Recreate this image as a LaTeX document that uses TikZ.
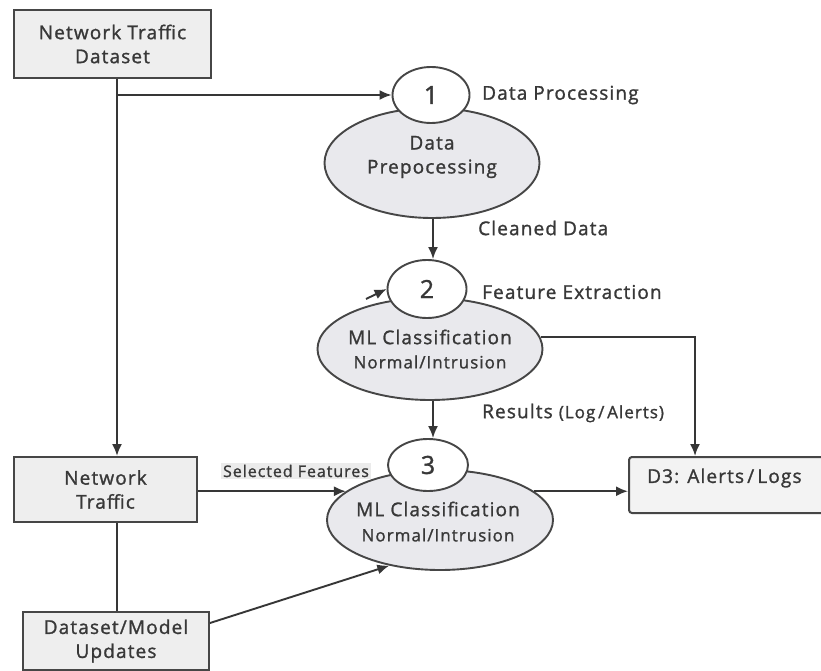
\documentclass[tikz,border=0pt]{standalone}
\usepackage{fontspec}
\setmainfont{Open Sans}[LetterSpace=6, FakeBold=1.3]
\usetikzlibrary{arrows.meta,shapes.geometric}
\definecolor{ln}{HTML}{363636}
\definecolor{bd}{HTML}{464646}
\definecolor{txt}{HTML}{383838}
\definecolor{boxfill}{HTML}{EEEEEE}
\definecolor{ellfill}{HTML}{E9E9ED}
\definecolor{tagfill}{HTML}{EBEBEB}
\newcommand{\mainsz}{\fontsize{19}{24}\selectfont}
\newcommand{\smallsz}{\fontsize{17}{20}\selectfont}
\newcommand{\tagsz}{\fontsize{16}{20}\selectfont}
\newcommand{\numsz}{\fontsize{25}{28}\selectfont}
\begin{document}
\begin{tikzpicture}[x=1pt,y=-1pt,
  box/.style={draw=bd, fill=boxfill, line width=2pt, inner sep=0pt, align=center, font=\mainsz, text=txt},
  proc/.style={ellipse, draw=bd, fill=ellfill, line width=1.9pt, inner sep=0pt},
  num/.style={ellipse, draw=bd, fill=white, line width=1.9pt, inner sep=0pt, font=\numsz, text=txt},
  etext/.style={inner sep=0pt, align=center, font=\mainsz, text=txt},
  esmall/.style={inner sep=0pt, align=center, font=\smallsz, text=txt},
  lbl/.style={inner sep=0pt, anchor=west, font=\mainsz, text=txt},
  arr/.style={draw=ln, line width=1.9pt, -{Latex[length=12pt,width=10pt]}},
  plain/.style={draw=ln, line width=1.9pt}]
\useasboundingbox[fill=white] (0,0) rectangle (821,671);

% boxes
\node[box, minimum width=197pt, minimum height=68pt] (ds) at (112.5,44) {Network Traffic\\Dataset};
\node[box, minimum width=183pt, minimum height=65pt] (nt) at (105.5,489.5) {Network\\Traffic};
\node[box, minimum width=186pt, minimum height=58pt] (dm) at (116,641) {Dataset/Model\\Updates};
\node[box, rounded corners=3pt, fill=boxfill!70!white, minimum width=196pt, minimum height=56pt] (d3) at (727,485) {};
\node[lbl] (d3t) at (647,478) {D3: Alerts\,/\,Logs};

% process 1
\node[proc, minimum width=215pt, minimum height=110pt] (e1) at (432,163) {};
\node[num, minimum width=77pt, minimum height=56pt] (c1) at (431,95) {1};
\node[etext] (e1t) at (432,157) {Data\\Prepocessing};

% process 2
\node[proc, minimum width=225pt, minimum height=102pt] (e2) at (430,349) {};
\node[num, minimum width=79pt, minimum height=58pt] (c2) at (427,289) {2};
\node[etext] (e2a) at (430,337) {ML Classification};
\node[esmall] (e2b) at (430,362) {Normal/Intrusion};

% process 3
\node[proc, minimum width=226pt, minimum height=100pt] (e3) at (440,520) {};
\node[num, minimum width=80pt, minimum height=52pt] (c3) at (428,465) {3};
\node[etext] (e3a) at (438,509) {ML Classification};
\node[esmall] (e3b) at (438,535) {Normal/Intrusion};

% labels
\node[lbl] (l1) at (482,95) {Data Processing};
\node[lbl] (l2) at (478,228) {Cleaned Data};
\node[lbl] (l3) at (482,292) {Feature Extraction};
\node[lbl] (l4) at (482,413) {Results {\smallsz(Log\,/\,Alerts)}};
\node[inner sep=2pt, fill=tagfill, font=\tagsz, text=txt] (l5) at (296,471) {Selected Features};

% connectors
\coordinate (trunk) at (117,95);
\draw[arr] (ds.south -| trunk) -- (nt.north -| trunk);
\draw[arr] (trunk) -- (c1.west);
\draw[plain] (nt.south -| trunk) -- (dm.north -| trunk);
\draw[arr] (e1.south -| 433,0) -- (c2.north -| 433,0);
\draw[arr] (e2.south -| 433,0) -- (c3.north -| 433,0);
\coordinate (stub) at (366,299);
\draw[arr] (stub) -- (c2.west);
\draw[arr] (e2.6) -| ([xshift=-32pt]d3.north);
\draw[arr] (e3.17) -- (e3.17 -| d3.west);
\draw[arr] (nt.east |- e3.163) -- (e3.163);
\draw[arr] ([yshift=18pt]dm.east) -- (e3.222);
\end{tikzpicture}
\end{document}
